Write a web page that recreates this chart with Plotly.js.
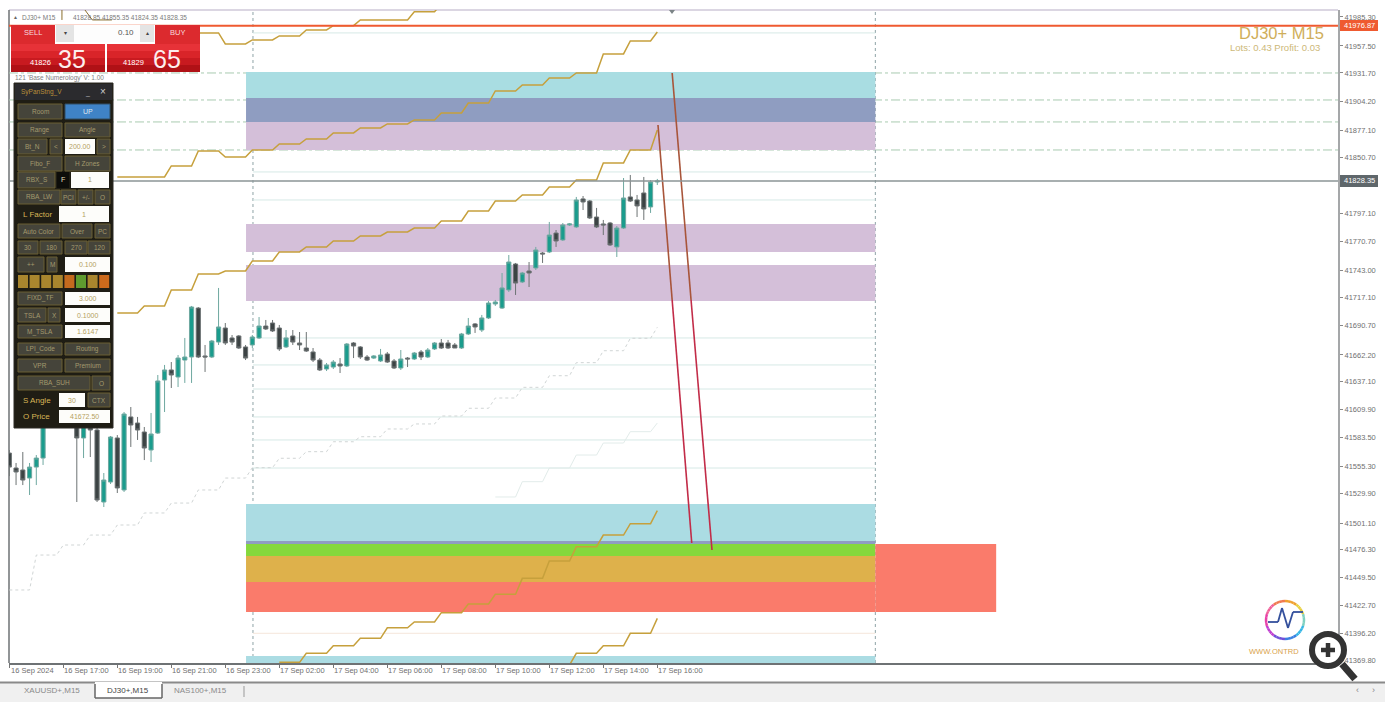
<!DOCTYPE html>
<html>
<head>
<meta charset="utf-8">
<script src="https://cdn.plot.ly/plotly-3.0.1.min.js"></script>
<style>html,body{margin:0;padding:0;background:#fff;overflow:hidden}#chart{width:1385px;height:702px}</style>
</head>
<body>
<div id="chart"></div>
<script>
// ---- candles (15 minute bars, prices) ----
const opens=[41568.4,41554.1,41552.2,41544.5,41555.0,41563.6,41604.8,41619.1,41633.4,41614.3,41600.0,41582.8,41601.9,41590.4,41521.6,41540.7,41582.8,41533.1,41602.9,41597.1,41588.5,41571.3,41587.5,41638.2,41647.8,41641.1,41657.3,41660.2,41707.0,41661.2,41660.2,41674.5,41687.9,41678.4,41680.3,41669.8,41671.7,41678.4,41689.8,41692.7,41687.9,41669.8,41680.3,41673.6,41668.8,41665.0,41657.3,41648.7,41650.6,41653.5,41651.6,41673.6,41669.8,41660.2,41659.2,41656.4,41663.1,41656.4,41649.7,41659.2,41658.3,41665.0,41660.2,41667.9,41673.6,41673.6,41671.7,41668.8,41682.2,41691.8,41686.0,41697.5,41710.9,41707.0,41724.3,41749.1,41731.9,41742.4,41745.3,41759.6,41760.6,41778.7,41772.1,41786.4,41784.5,41811.3,41809.3,41794.0,41787.4,41788.3,41765.4,41783.5,41813.2,41810.3,41817.0,41803.6,41827.5];
const highs=[41571.3,41558.9,41569.4,41558.9,41566.5,41607.6,41623.9,41638.2,41640.1,41621.0,41607.6,41611.5,41609.5,41596.2,41549.3,41584.7,41585.6,41607.6,41612.4,41602.9,41593.3,41606.7,41643.0,41652.6,41655.4,41662.1,41678.4,41709.0,41708.0,41671.7,41676.5,41726.2,41692.7,41681.2,41681.2,41671.7,41681.2,41698.4,41695.6,41695.6,41690.8,41686.0,41686.0,41684.1,41684.1,41668.8,41659.2,41654.5,41657.3,41659.2,41673.6,41674.5,41670.7,41662.1,41662.1,41667.9,41665.0,41658.3,41666.9,41660.2,41665.0,41666.9,41668.8,41674.5,41677.4,41676.5,41673.6,41683.2,41697.5,41692.7,41700.4,41713.7,41714.7,41740.5,41757.7,41750.1,41741.5,41751.0,41765.4,41760.6,41789.3,41781.6,41788.3,41788.3,41813.2,41814.1,41810.3,41802.7,41791.2,41789.3,41785.4,41831.3,41834.2,41815.1,41832.3,41829.4,41830.4];
const lows=[41546.4,41537.8,41537.8,41528.3,41537.8,41557.0,41600.0,41614.3,41607.6,41596.2,41521.6,41563.6,41564.6,41521.6,41516.8,41538.8,41530.2,41531.2,41574.2,41580.9,41561.7,41559.8,41586.6,41607.6,41630.6,41631.5,41635.4,41635.4,41659.2,41645.9,41659.2,41671.7,41671.7,41671.7,41667.9,41657.3,41668.8,41677.4,41686.0,41684.1,41666.0,41668.8,41671.7,41666.9,41665.0,41655.4,41646.8,41646.8,41648.7,41644.9,41650.6,41659.2,41658.3,41656.4,41658.3,41655.4,41654.5,41648.7,41647.8,41650.6,41657.3,41657.3,41659.2,41666.9,41667.9,41667.9,41668.8,41667.9,41681.2,41683.2,41684.1,41696.5,41709.0,41706.1,41722.4,41719.5,41730.9,41727.1,41743.4,41750.1,41759.6,41765.4,41771.1,41785.5,41783.5,41800.7,41792.1,41783.5,41776.8,41766.3,41755.8,41782.6,41808.4,41794.0,41791.2,41797.9,41824.6];
const closes=[41555.0,41550.3,41542.6,41555.0,41563.6,41604.8,41619.1,41633.4,41614.3,41600.0,41582.8,41604.8,41590.4,41523.5,41542.6,41583.7,41535.0,41605.7,41595.2,41590.4,41573.2,41586.6,41637.3,41647.8,41643.0,41659.2,41660.2,41708.0,41660.2,41660.2,41675.5,41688.9,41673.6,41674.5,41668.8,41659.2,41679.3,41689.8,41687.0,41685.1,41667.9,41678.4,41674.5,41671.7,41665.9,41657.3,41647.8,41652.6,41655.4,41651.6,41672.6,41670.7,41660.2,41657.3,41661.2,41662.1,41655.4,41649.7,41658.3,41658.3,41664.0,41660.2,41666.9,41673.6,41668.8,41668.8,41668.8,41682.2,41689.8,41688.9,41697.5,41711.8,41712.8,41726.2,41751.0,41730.9,41740.5,41740.5,41762.5,41758.7,41776.8,41771.1,41786.4,41787.4,41810.3,41808.4,41793.1,41784.5,41786.4,41767.3,41783.5,41812.2,41809.3,41804.6,41801.7,41827.5,41828.4];
const barIndex=opens.map((_,i)=>i);

// ---- stepped gold / grey indicator lines: level of each 4-bar step ----
const topStepStart=[28,32,36,40,44,48,52,56,60,64];
const topStepLevel=[41970.0,41959.4,41963.3,41967.1,41972.8,41976.9,41982.4,41982.4,41990.3,41997.7];
const upperStepStart=[16,20,24,28,32,36,40,44,48,52,56,60,64,68,72,76,80,84,88,92,96];
const upperStepLevel=[41832.3,41832.3,41842.8,41857.1,41851.4,41858.1,41863.8,41868.6,41874.4,41879.1,41883.0,41886.8,41893.5,41903.0,41914.5,41920.2,41926.9,41931.7,41949.9,41962.3,41970.9];
const midStepStart=upperStepStart;
const midStepLevel=[41702.3,41709.0,41724.3,41739.6,41742.4,41752.0,41760.6,41765.4,41771.1,41775.9,41779.7,41783.5,41790.2,41799.8,41809.3,41815.1,41822.7,41829.4,41845.7,41858.1,41877.2];
const lowStepStart=[40,44,48,52,56,60,64,68,72,76,80,84,88,92,96];
const lowStepLevel=[41368.3,41377.0,41384.2,41391.3,41401.4,41406.9,41415.8,41424.1,41433.4,41448.6,41465.2,41478.9,41490.0,41500.9,41513.3];
const bottomStepStart=[80,84,88,92,96];
const bottomStepLevel=[41365.8,41377.0,41384.2,41396.1,41410.4];
const greyStepStart=[0,4,8,12,16,20,24,28,32,36,40,44,48,52,56,60,64,68,72,76,80,84,88,92,96];
const greyStepLevel=[41437.5,41470.9,41480.5,41490.0,41499.6,41511.1,41520.6,41533.1,41544.5,41554.4,41563.4,41569.7,41579.2,41584.0,41591.4,41596.2,41603.8,41611.2,41621.0,41631.2,41642.3,41654.8,41666.2,41678.1,41688.6];
const paleStepStart=[72,76,80,84,88,92,96];
const paleStepLevel=[41526.4,41541.0,41554.1,41566.5,41578.0,41588.8,41597.1];
const headerStrokeAX=[7.8,7.8], headerStrokeAY=[41992.0,41982.4];
const headerStrokeBX=[11.2,12.3,15.2], headerStrokeBY=[41992.0,41982.4,41982.4];

// ---- price zones: top, bottom ----
const zoneTops=[41932.7,41907.8,41884.9,41787.4,41748.2,41519.7,41484.3,41481.4,41470.0,41445.1,41374.4];
const zoneBottoms=[41907.8,41884.9,41858.1,41760.6,41713.8,41484.3,41481.4,41470.0,41445.1,41416.4,41367.7];
const zoneFills=['#a9dde2','#8f9dc1','#d4bfd9','#d4bfd9','#d4bfd9','#abdce3','#8f9dc1','#85d83c','#deb14b','#fa7b6b','#abdce3'];

// ---- horizontal levels ----
const askLevel=41976.9, bidLevel=41828.35;
const dashLevels=[41931.7,41905.9,41884.9,41858.1];
const paleLevels=[41970.0,41837.1,41810.3,41678.4,41652.6,41629.6,41602.9,41580.9,41554.1,41396.1];

// ---- red trend lines ----
const trendAX=[98.2,101.0,104.1], trendAY=[41931.7,41714.7,41475.7];
const trendBX=[96.1,98.2,101.1], trendBY=[41882.0,41714.7,41482.4];

// ---- axis labels ----
const priceTicks=[41985.3,41957.5,41931.7,41904.2,41877.1,41850.7,41797.1,41770.7,41743.0,41717.1,41690.7,41662.2,41637.1,41609.9,41583.5,41555.3,41529.9,41501.1,41476.3,41449.5,41422.7,41396.2,41369.8];
const timeTicks=[0,8,16,24,32,40,48,56,64,72,80,88,96];
const timeLabels=['16 Sep 2024','16 Sep 17:00','16 Sep 19:00','16 Sep 21:00','16 Sep 23:00','17 Sep 02:00','17 Sep 04:00','17 Sep 06:00','17 Sep 08:00','17 Sep 10:00','17 Sep 12:00','17 Sep 14:00','17 Sep 16:00'];

// ---- geometry helpers ----
const PL=9,PR=1338,PT=10,PB=663;
const xMin=-0.044,xMax=196.84,yMin=41367.7,yMax=41991.9;
const zoneLeft=35.07,zoneRight=128.3,vLineA=36.1,redRight=146.2;
const px=v=>(v-PL)/(PR-PL), py=v=>1-(v-PT)/(PB-PT);
function steps(starts,levels){
  const xs=[],ys=[];
  starts.forEach((s,i)=>{xs.push(s);ys.push(levels[i]);if(i<starts.length-1){xs.push(s+3);ys.push(levels[i]);}});
  return {x:xs,y:ys};
}
const shapes=[], annotations=[];
function box(x0,y0,x1,y1,fill,line,lw){
  shapes.push({type:'rect',xref:'paper',yref:'paper',layer:'above',x0:px(x0),x1:px(x1),y0:py(y0),y1:py(y1),fillcolor:fill,line:{color:line||fill,width:line?(lw||1):0}});
}
function seg(x0,y0,x1,y1,color,w){
  shapes.push({type:'line',xref:'paper',yref:'paper',layer:'above',x0:px(x0),x1:px(x1),y0:py(y0),y1:py(y1),line:{color:color,width:w}});
}
function label(x,y,text,size,color,anchor,family){
  annotations.push({xref:'paper',yref:'paper',x:px(x),y:py(y),text:text,showarrow:false,xanchor:anchor||'center',yanchor:'middle',borderpad:0,
    font:{size:size,color:color,family:family||'Liberation Sans, Arial, sans-serif'}});
}
function btn(x0,y0,x1,y1,text,kind){
  const y=(y0+y1)/2,x=(x0+x1)/2;
  if(kind==='input'){box(x0,y0,x1,y1,'#fdfdfa');label(x,y,text,7,'#b5a15f');}
  else if(kind==='blue'){box(x0,y0,x1,y1,'#3f83c6','#334f63');label(x,y,text,7,'#dfe8ee');}
  else if(kind==='plain'){label(x,y,text,8,'#d9b657');}
  else {box(x0,y0,x1,y1,'#45443a','#6a5f33');label(x,y,text,6.5,'#a49a6e');}
}

// zones, drawn under the candles
zoneTops.forEach((t,i)=>shapes.push({type:'rect',xref:'x',yref:'y',layer:'below',x0:zoneLeft,x1:zoneRight,y0:t,y1:zoneBottoms[i],fillcolor:zoneFills[i],line:{width:0}}));
shapes.push({type:'rect',xref:'x',yref:'y',layer:'below',x0:zoneRight,x1:redRight,y0:41481.4,y1:41416.4,fillcolor:'#fa7b6b',line:{width:0}});
dashLevels.forEach(l=>shapes.push({type:'line',xref:'paper',yref:'y',layer:'below',x0:0,x1:1,y0:l,y1:l,line:{color:'#a9cbb0',width:1,dash:'dashdot'}}));
paleLevels.forEach((l,i)=>shapes.push({type:'line',xref:'x',yref:'y',layer:'below',x0:vLineA,x1:zoneRight,y0:l,y1:l,line:{color:i===9?'#f5e6da':'#d6e9e6',width:1}}));
[vLineA,zoneRight].forEach(v=>shapes.push({type:'line',xref:'x',yref:'paper',layer:'below',x0:v,x1:v,y0:0,y1:1,line:{color:'#8fa3a6',width:1,dash:'dot'}}));
shapes.push({type:'line',xref:'paper',yref:'y',layer:'above',x0:0,x1:1,y0:askLevel,y1:askLevel,line:{color:'#ef5a30',width:2}});
shapes.push({type:'line',xref:'paper',yref:'y',layer:'above',x0:0,x1:1,y0:bidLevel,y1:bidLevel,line:{color:'#8b9496',width:1.5}});

// top marker
shapes.push({type:'path',xref:'paper',yref:'paper',layer:'above',path:`M ${px(669)} ${py(10)} L ${px(675)} ${py(10)} L ${px(672)} ${py(14)} Z`,fillcolor:'#7b8486',line:{width:0}});

// header text
label(12,17,'▲',5,'#666','left');
label(21,17,'DJ30+ M15',6.5,'#7a7a7a','left');
label(72,17,'41828.85 41855.35 41824.35 41828.35',6.5,'#7a7a7a','left');
label(14,78,"121 'Base Numerology' V: 1.00",6.5,'#7f7f7f','left');

// one-click trade block
[['#e73238',44,51],['#d92429',51,58],['#c81a20',58,65],['#b01116',65,72]].forEach(b=>{
  box(11,b[1],105,b[2],b[0]); box(107,b[1],200,b[2],b[0]);
});
box(11,25,55,44,'#dc2a2e'); box(155,25,200,44,'#dc2a2e');
box(55,25,155,42,'#fdfdfd'); box(56,25,74,42,'#e4e4e4'); box(140,25,154,42,'#e4e4e4');
label(33,33,'SELL',7.5,'#f6dcdc'); label(177,33,'BUY',7.5,'#f6dcdc');
label(65,33,'▾',6,'#444'); label(147,33,'▴',6,'#444'); label(126,33,'0.10',8,'#555');
label(40,63,'41826',7.5,'#ffffff'); label(72,59,'35',25,'#fdeeee');
label(133,63,'41829',7.5,'#ffffff'); label(167,59,'65',25,'#fdeeee');

// side panel
box(14,83,113,428,'#1f1d14','#2d2b25');
box(15,84,112,100,'#2b2b2e');
label(20,92,'SyPanStng_V',6.5,'#b98f3a','left'); label(87,93,'_',7,'#bbb'); label(103,92,'×',10,'#cfcfcf');
btn(18,104,62,119,'Room'); btn(65,104,110,119,'UP','blue');
btn(18,123,62,137,'Range'); btn(65,123,110,137,'Angle');
btn(18,139,47,154,'Bt_N'); btn(50,139,62,154,'<'); btn(65,139,95,154,'200.00','input'); btn(97,139,110,154,'>');
btn(18,156,62,171,'Fibo_F'); btn(65,156,110,171,'H Zones');
btn(18,172,55,188,'RBX_S'); box(57,172,69,188,'#0d0d0a'); label(63,180,'F',7,'#e8e2c0'); btn(71,172,109,188,'1','input');
btn(18,190,60,204,'RBA_LW'); btn(61,190,76,204,'PCI'); btn(78,190,93,204,'+/-'); btn(95,190,110,204,'O');
btn(18,206,57,222,'L Factor','plain'); btn(59,206,109,222,'1','input');
btn(18,224,60,238,'Auto Color'); btn(62,224,92,238,'Over'); btn(95,224,110,238,'PC');
btn(18,241,38,254,'30'); btn(40,241,62,254,'180'); btn(65,241,87,254,'270'); btn(88,241,110,254,'120');
btn(18,257,44,272,'++'); btn(47,257,57,272,'M'); btn(65,257,110,272,'0.100','input');
['#a9862e','#a9862e','#a9862e','#a9862e','#c46a1e','#5f9b2f','#a9862e','#cc6a1c'].forEach((c,i)=>box(18+i*11.6,275,28+i*11.6,288,c));
btn(18,292,62,305,'FIXD_TF'); btn(65,292,110,305,'3.000','input');
btn(18,308,46,322,'TSLA'); btn(48,308,60,322,'X'); btn(65,308,110,322,'0.1000','input');
btn(18,325,62,338,'M_TSLA'); btn(65,325,110,338,'1.6147','input');
btn(18,343,62,355,'LPI_Code'); btn(65,343,110,355,'Routing');
btn(18,359,62,372,'VPR'); btn(65,359,110,372,'Premium');
btn(18,376,90,390,'RBA_SUH'); btn(92,376,110,390,'O');
btn(18,393,55,407,'S Angle','plain'); btn(59,393,85,407,'30','input'); btn(88,393,110,407,'CTX');
btn(18,410,55,423,'O Price','plain'); btn(59,410,110,423,'41672.50','input');

// symbol text
label(1325,33,'DJ30+ M15',16.5,'#cfae5a','right');
label(1321,48,'Lots: 0.43 Profit: 0.03',9.5,'#cdb878','right');

// price tags
box(1340,20,1378,31,'#ef5a30'); label(1359,25.7,'41976.87',7.5,'#fff');
box(1340,175,1378,187,'#5f676b'); label(1359,181,'41828.35',7.5,'#fff');

// logo ring
const ringColors=['#f0a030','#e8d040','#7fd0c0','#35b6e6','#3a7fe0','#7050d8','#c040d0','#e840a8','#f0609a','#f07a50'];
for(let a=0;a<40;a++){
  const t0=-Math.PI/2+a*Math.PI/20,t1=t0+Math.PI/20;
  seg(1285+19*Math.cos(t0),620+19*Math.sin(t0),1285+19*Math.cos(t1),620+19*Math.sin(t1),ringColors[Math.floor(a/4)],2.5);
}
[[1268,622,1278,622],[1278,622,1282,608],[1282,608,1288,628],[1288,628,1293,612],[1293,612,1303,612]].forEach(s=>seg(s[0],s[1],s[2],s[3],'#34509c',1.8));
label(1274,651,'WWW.ONTRD',7.5,'#d9a24a');

// bottom tab strip
box(0,683,1385,702,'#f0f0f0');
seg(0,682.5,1385,682.5,'#8a8a8a',2);
box(95,682,162,698,'#ffffff');
seg(95,684,95,698,'#666',1.5); seg(95,698,162,698,'#666',1.5); seg(162,684,162,698,'#666',1.5);
seg(244,686,244,697,'#999',1);
label(52,690,'XAUUSD+,M15',8,'#8a8a8a'); label(128,690,'DJ30+,M15',8,'#444'); label(201,690,'NAS100+,M15',8,'#8a8a8a');
label(1357,690,'‹',9,'#888'); label(1373,690,'›',9,'#888');

// magnifier
seg(1342,664,1355,679,'#333',7);
shapes.push({type:'circle',xref:'paper',yref:'paper',layer:'above',x0:px(1312),x1:px(1344),y0:py(634),y1:py(666),fillcolor:'#ffffff',line:{color:'#333',width:6}});
seg(1321,650,1335,650,'#333',4.5); seg(1328,643,1328,657,'#333',4.5);

const stepLine=(starts,levels,color,width,dash)=>Object.assign(steps(starts,levels),{type:'scatter',mode:'lines',line:{color:color,width:width,dash:dash||'solid'},hoverinfo:'skip',showlegend:false});
const gold='#c6a03c';
const traces=[
  stepLine(paleStepStart,paleStepLevel,'#e2ecea',1),
  stepLine(greyStepStart,greyStepLevel,'#d0d5d5',1,'dot'),
  stepLine(topStepStart,topStepLevel,gold,1.5),
  stepLine(upperStepStart,upperStepLevel,gold,1.5),
  stepLine(midStepStart,midStepLevel,gold,1.5),
  stepLine(lowStepStart,lowStepLevel,gold,1.5),
  stepLine(bottomStepStart,bottomStepLevel,gold,1.5),
  {type:'scatter',mode:'lines',x:headerStrokeAX,y:headerStrokeAY,line:{color:'#8a6d2c',width:1},hoverinfo:'skip',showlegend:false},
  {type:'scatter',mode:'lines',x:headerStrokeBX,y:headerStrokeBY,line:{color:'#8a6d2c',width:1},hoverinfo:'skip',showlegend:false},
  {type:'candlestick',x:barIndex,open:opens,high:highs,low:lows,close:closes,whiskerwidth:0,hoverinfo:'skip',showlegend:false,
    increasing:{line:{color:'#6fa8a0',width:1},fillcolor:'#1a9c8d'},decreasing:{line:{color:'#6d7374',width:1},fillcolor:'#3c4344'}},
  {type:'scatter',mode:'lines',x:trendAX.slice(0,2),y:trendAY.slice(0,2),line:{color:'#a8553a',width:1.6},hoverinfo:'skip',showlegend:false},
  {type:'scatter',mode:'lines',x:trendAX.slice(1),y:trendAY.slice(1),line:{color:'#c22c48',width:1.6},hoverinfo:'skip',showlegend:false},
  {type:'scatter',mode:'lines',x:trendBX.slice(0,2),y:trendBY.slice(0,2),line:{color:'#a8553a',width:1.6},hoverinfo:'skip',showlegend:false},
  {type:'scatter',mode:'lines',x:trendBX.slice(1),y:trendBY.slice(1),line:{color:'#c22c48',width:1.6},hoverinfo:'skip',showlegend:false}
];
const layout={
  width:1385,height:702,margin:{l:PL,r:1385-PR,t:PT,b:702-PB,pad:0},
  paper_bgcolor:'#ffffff',plot_bgcolor:'#ffffff',showlegend:false,
  font:{family:'Liberation Sans, Arial, sans-serif',size:8,color:'#707070'},
  xaxis:{type:'linear',range:[xMin,xMax],showgrid:false,zeroline:false,rangeslider:{visible:false},tickmode:'array',tickvals:timeTicks,ticktext:timeLabels,
    ticks:'outside',ticklen:3,tickcolor:'#777',ticklabelshift:23,ticklabelstandoff:-4,tickfont:{size:7.5,color:'#707070'},showline:true,linecolor:'#6e7274',linewidth:1.5,automargin:false},
  yaxis:{type:'linear',side:'right',range:[yMin,yMax],showgrid:false,zeroline:false,tickmode:'array',tickvals:priceTicks,ticktext:priceTicks.map(v=>v.toFixed(2)),
    ticks:'outside',ticklen:3,tickcolor:'#888',tickfont:{size:7.5,color:'#707070'},showline:true,linecolor:'#a5a7a9',linewidth:2,automargin:false},
  shapes:shapes,annotations:annotations,boxgap:0.12
};
// plot frame left and top
layout.shapes.unshift({type:'line',xref:'paper',yref:'paper',layer:'below',x0:0,x1:0,y0:0,y1:1,line:{color:'#6e7274',width:1.5}});
layout.shapes.unshift({type:'line',xref:'paper',yref:'paper',layer:'below',x0:0,x1:1,y0:1,y1:1,line:{color:'#cfc9d8',width:1.5}});
Plotly.newPlot('chart',traces,layout,{displayModeBar:false,staticPlot:true});
</script>
</body>
</html>
